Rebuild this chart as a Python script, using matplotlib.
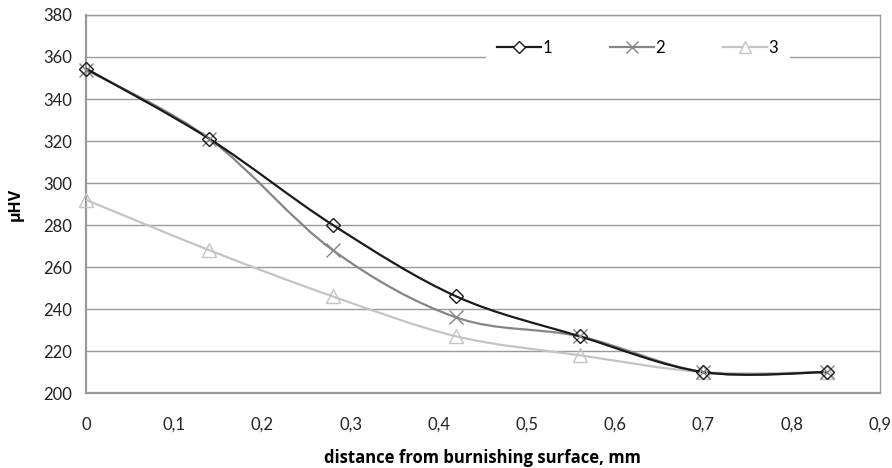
import numpy as np
import matplotlib.pyplot as plt
from matplotlib.path import Path
from matplotlib.patches import PathPatch
from matplotlib.lines import Line2D
from matplotlib.ticker import FuncFormatter

plt.rcParams["font.family"] = ["Lato", "DejaVu Sans"]

DEPTH = [0.0, 0.14, 0.28, 0.42, 0.56, 0.70, 0.84]
HV_1 = [354.5, 321, 280, 246, 227, 210, 210]
HV_2 = [354, 321, 268, 236, 227, 210, 210]
HV_3 = [292, 268, 246, 227, 218, 210, 210]
LABELS = ["1", "2", "3"]

COLORS = ["#1a1a1a", "#858585", "#c4c4c4"]
MARKERS = ["D", "x", "^"]


def smooth_path(xs, ys):
    # cubic Bezier segments through every point (spreadsheet-style smoothed line)
    pts = np.column_stack([xs, ys]).astype(float)
    n = len(pts)
    verts = [pts[0]]
    codes = [Path.MOVETO]
    for i in range(n - 1):
        p0 = pts[i - 1] if i > 0 else pts[i]
        p1, p2 = pts[i], pts[i + 1]
        p3 = pts[i + 2] if i + 2 < n else pts[i + 1]
        c1 = p1 + (p2 - p0) / 6.0
        c2 = p2 - (p3 - p1) / 6.0
        verts += [c1, c2, p2]
        codes += [Path.CURVE4] * 3
    return Path(verts, codes)


fig = plt.figure(figsize=(8.92, 4.68), dpi=100)
ax = fig.add_axes([0.0964, 0.160, 0.890, 0.808])

series = [HV_1, HV_2, HV_3]
handles = []
for vals, c, m, lab in zip(series[::-1], COLORS[::-1], MARKERS[::-1], LABELS[::-1]):
    ax.add_patch(PathPatch(smooth_path(DEPTH, vals), facecolor="none",
                           edgecolor=c, linewidth=1.6, zorder=3))
    ms = 7.5 if m == "D" else 10
    ax.plot(DEPTH, vals, linestyle="none", marker=m, markersize=ms,
            markerfacecolor="none", markeredgecolor=c, markeredgewidth=1.0,
            zorder=4, clip_on=False)

for c, m, lab in zip(COLORS, MARKERS, LABELS):
    ms = 6 if m == "D" else 8
    handles.append(Line2D([], [], color=c, linewidth=1.6, marker=m, markersize=ms,
                          markerfacecolor="white" if m != "x" else "none",
                          markeredgecolor=c, markeredgewidth=1.0, label=lab))

ax.set_xlim(0, 0.9)
ax.set_ylim(200, 380)
ax.set_xticks(np.arange(0, 0.91, 0.1))
ax.set_yticks(np.arange(200, 381, 20))
ax.xaxis.set_major_formatter(FuncFormatter(
    lambda v, p: "0" if abs(v) < 1e-9 else f"{v:.1f}".replace(".", ",")))
ax.tick_params(axis="both", length=0, labelsize=12, colors="#222222")
ax.tick_params(axis="x", pad=17)
ax.tick_params(axis="y", pad=10)

ax.grid(True, axis="y", color="#9a9a9a", linewidth=1.0)
ax.set_axisbelow(True)
for side in ["top", "right", "left", "bottom"]:
    ax.spines[side].set_color("#9a9a9a")
    ax.spines[side].set_linewidth(1.0)
ax.spines["left"].set_linewidth(1.6)
ax.spines["bottom"].set_linewidth(1.6)

ax.set_ylabel("μHV", fontsize=11.5, fontweight="bold", labelpad=14,
              family=["Open Sans", "DejaVu Sans"])
ax.set_xlabel("distance from burnishing surface, mm", fontsize=12,
              fontweight="bold", labelpad=12, family=["Open Sans", "DejaVu Sans"])

leg = ax.legend(handles=handles, loc="center", bbox_to_anchor=(0.695, 0.912),
                ncol=3, fontsize=12, handlelength=2.6, handletextpad=0.1,
                columnspacing=3.5, frameon=True, facecolor="white",
                edgecolor="none", framealpha=1, fancybox=False,
                borderpad=0.7, borderaxespad=0)
leg.get_frame().set_boxstyle("square", pad=0)

fig.savefig("out.png", dpi=100)
